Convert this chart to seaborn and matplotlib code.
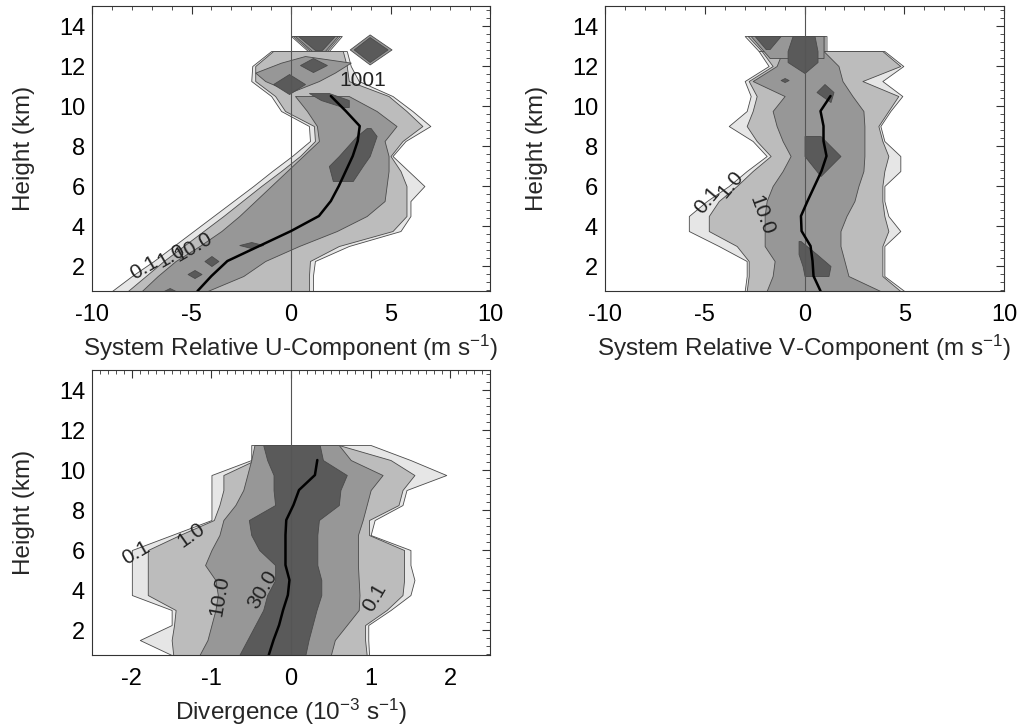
import matplotlib
matplotlib.use("Agg")
import matplotlib.pyplot as plt
import seaborn as sns
from matplotlib.ticker import MultipleLocator

nan = float("nan")

# height rows of the frequency analysis (km)
HEIGHTS = [0.75, 1.5, 2.25, 3.0, 3.75, 4.5, 5.25, 6.0, 6.75, 7.5,
           8.25, 9.0, 9.75, 10.5, 11.25, 12.0, 12.75, 13.5]
LEVELS = [0.1, 1.0, 10.0, 30.0]
SHADES = ["#e6e6e6", "#bcbcbc", "#979797", "#5a5a5a"]

# --- system relative U: left/right edge of each frequency contour per height
U_L01 = [-9.0, -8.0, -6.9, -5.9, -4.9, -3.9, -2.9, -1.9, -0.95, 0.05, 0.95, 0.9, -0.5, -1.0, -2.0, -1.95, -1.0, nan]
U_R01 = [1.1, 1.1, 1.2, 2.9, 5.5, 6.0, 6.0, 6.7, 5.9, 5.1, 5.75, 7.0, 6.1, 5.1, 3.4, 3.0, 2.8, nan]
U_L1 = [-8.2, -7.3, -6.4, -5.4, -4.4, -3.4, -2.45, -1.5, -0.5, 0.45, 1.2, 1.15, -0.3, -0.8, -1.8, -1.8, -0.9, nan]
U_R1 = [0.9, 0.9, 0.95, 2.4, 5.1, 5.8, 5.8, 5.8, 5.5, 5.0, 5.6, 6.6, 5.8, 4.9, 2.9, 2.8, 2.6, nan]
U_L10 = [-7.5, -6.7, -5.8, -4.6, -3.5, -2.6, -1.8, -1.0, -0.2, 0.6, 1.4, 1.3, 0.8, 0.2, nan, nan, nan, nan]
U_R10 = [-4.2, -2.4, -1.3, 0.4, 2.3, 3.8, 4.7, 4.8, 4.9, 4.9, 4.7, 5.3, 4.3, 2.9, nan, nan, nan, nan]
U_MEAN = [-4.7, -4.0, -3.2, -1.6, 0.0, 1.4, 2.0, 2.4, 2.75, 3.1, 3.35, 3.45, 2.75, 2.0]
# (level, heights, left, right) of detached cells
U_ISLANDS = [
    (0.1, [12.75, 13.5], [0.85, 0.0], [1.9, 2.55]),
    (1.0, [12.75, 13.5], [0.95, 0.1], [1.8, 2.45]),
    (10.0, [12.75, 13.5], [1.05, 0.2], [1.7, 2.35]),
    (30.0, [12.8, 13.5], [1.2, 0.35], [1.55, 2.2]),
    (10.0, [12.08, 12.83, 13.58], [3.95, 2.95, 3.95], [3.95, 5.05, 3.95]),
    (30.0, [12.2, 12.83, 13.45], [3.95, 3.15, 3.95], [3.95, 4.85, 3.95]),
    (10.0, [10.7, 11.25, 11.67, 12.17, 12.5], [0.0, -1.3, -1.8, -0.5, 0.7], [0.0, 1.4, 2.2, 3.0, 0.7]),
    (30.0, [11.7, 12.05, 12.4], [1.1, 0.45, 1.1], [1.1, 1.8, 1.1]),
    (30.0, [10.6, 11.1, 11.6], [-0.1, -0.9, -0.1], [-0.1, 0.7, -0.1]),
    (30.0, [9.95, 10.3, 10.65], [2.6, 1.5, 0.9], [2.9, 2.9, 1.9]),
    (30.0, [6.25, 7.0, 7.5, 8.5, 8.9], [2.1, 1.9, 2.4, 3.3, 3.8], [3.1, 3.6, 3.95, 4.3, 4.0]),
    (30.0, [1.4, 1.6, 1.8], [-4.85, -5.2, -4.85], [-4.85, -4.5, -4.85]),
    (30.0, [2.0, 2.25, 2.5], [-4.0, -4.35, -4.0], [-4.0, -3.65, -4.0]),
    (30.0, [2.9, 3.05, 3.2], [-2.0, -2.6, -2.0], [-2.0, -1.4, -2.0]),
    (30.0, [0.75, 0.9], [-6.4, -6.1], [-5.8, -6.1]),
]
U_LABELS = [("0.1", -7.4, 1.9, 30), ("1.0", -6.0, 2.5, 30), ("10.0", -4.9, 2.95, 30), ("1001", 3.6, 11.3, 0)]

# --- system relative V
V_L01 = [-3.0, -2.9, -2.9, -4.3, -5.8, -5.8, -4.9, -3.8, -2.9, -1.9, -2.6, -3.8, -2.9, -2.7, -3.0, -1.8, -2.3, nan]
V_R01 = [5.0, 4.0, 4.0, 4.0, 4.8, 4.2, 4.0, 4.0, 4.8, 4.8, 4.0, 3.8, 4.3, 4.9, 3.9, 4.95, 4.0, nan]
V_L1 = [-2.9, -2.8, -2.8, -3.4, -4.8, -4.8, -4.3, -3.4, -2.6, -1.7, -2.4, -2.9, -2.6, -2.4, -2.8, -1.6, -2.15, nan]
V_R1 = [4.8, 3.9, 3.9, 3.9, 4.2, 4.0, 3.9, 3.9, 4.0, 4.2, 3.9, 3.7, 4.2, 4.7, 2.9, 4.8, 3.9, nan]
V_L10 = [-1.9, -1.6, -1.5, -2.0, -2.0, -2.0, -1.9, -1.6, -1.1, -0.7, -1.1, -1.4, -1.6, -1.0, -2.6, -1.4, -1.1, nan]
V_R10 = [3.8, 2.2, 2.0, 1.8, 1.8, 2.1, 2.5, 2.7, 2.95, 3.0, 3.0, 3.0, 2.95, 2.4, 1.9, 1.7, 0.95, nan]
V_MEAN = [0.8, 0.45, 0.4, 0.3, -0.15, -0.18, 0.15, 0.5, 0.85, 1.1, 0.95, 0.95, 0.8, 1.3]
V_ISLANDS = [
    (0.1, [12.75, 13.5], [-2.3, -3.0], [1.1, 1.1]),
    (1.0, [12.75, 13.5], [-2.15, -2.85], [1.0, 1.0]),
    (10.0, [12.4, 13.5], [-1.75, -2.7], [0.95, 0.95]),
    (30.0, [12.85, 13.5], [-1.95, -2.5], [-1.75, -1.2]),
    (30.0, [11.65, 12.2, 12.75, 13.5], [0.0, -0.85, -0.85, -0.6], [0.0, 0.65, 0.65, 0.5]),
    (30.0, [10.2, 10.7, 11.1], [1.3, 0.6, 1.0], [1.3, 1.45, 1.0]),
    (30.0, [6.5, 7.5, 8.5], [0.8, 0.0, 0.0], [0.8, 1.8, 0.8]),
    (30.0, [1.5, 2.0, 2.6, 3.25], [0.0, -0.1, -0.3, -0.3], [1.2, 1.3, 0.6, -0.2]),
    (30.0, [11.2, 11.3, 11.4], [-1.0, -1.2, -1.0], [-1.0, -0.8, -1.0]),
]
V_LABELS = [("0.1", -4.9, 5.3, 50), ("1.0", -3.7, 6.1, 50), ("10.0", -2.15, 4.55, -70)]

# --- divergence
D_L01 = [-1.5, -1.9, -1.5, -1.5, -2.0, -2.0, -2.0, -2.0, -1.5, -1.0, -1.0, -1.0, -1.0, -0.5, -0.5, nan, nan, nan]
D_R01 = [0.98, 0.97, 0.97, 1.25, 1.5, 1.55, 1.5, 1.5, 1.0, 1.05, 1.4, 1.45, 1.95, 1.5, 1.0, nan, nan, nan]
D_L1 = [-1.48, -1.5, -1.47, -1.45, -1.8, -1.8, -1.8, -1.8, -1.4, -0.97, -0.9, -0.85, -0.85, -0.45, -0.45, nan, nan, nan]
D_R1 = [0.95, 0.93, 0.93, 1.2, 1.4, 1.42, 1.42, 1.42, 0.98, 0.98, 1.35, 1.4, 1.55, 1.25, 0.6, nan, nan, nan]
D_L10 = [-1.15, -1.05, -1.0, -0.95, -0.92, -0.95, -1.08, -1.0, -0.9, -0.85, -0.7, -0.6, -0.55, -0.5, -0.46, nan, nan, nan]
D_R10 = [0.5, 0.55, 0.7, 0.85, 0.86, 0.85, 0.84, 0.84, 0.84, 0.9, 0.95, 1.0, 1.15, 0.75, 0.6, nan, nan, nan]
D_L30 = [-0.65, -0.55, -0.45, -0.35, -0.3, -0.2, -0.2, -0.4, -0.5, -0.53, -0.2, -0.22, -0.22, -0.3, -0.35, nan, nan, nan]
D_R30 = [0.18, 0.22, 0.27, 0.32, 0.38, 0.38, 0.33, 0.33, 0.33, 0.35, 0.6, 0.62, 0.7, 0.4, 0.36, nan, nan, nan]
D_MEAN = [-0.28, -0.22, -0.15, -0.1, -0.04, -0.02, -0.07, -0.07, -0.07, -0.06, 0.03, 0.1, 0.3, 0.33]
D_LABELS = [("0.1", -1.95, 5.85, 30), ("1.0", -1.25, 6.75, 35), ("10.0", -0.9, 3.7, 80),
            ("30.0", -0.36, 4.0, 60), ("0.1", 1.05, 3.6, 60)]


def draw_cfad(ax, edges, islands, mean, labels, xlim, xmajor, xminor, xlabel):
    for i, level in enumerate(LEVELS):
        style = dict(facecolor=SHADES[i], edgecolor="#4a4a4a", linewidth=0.6)
        if level in edges:
            left, right = edges[level]
            ax.fill_betweenx(HEIGHTS, left, right, **style)
        for lev, hts, left, right in islands:
            if lev == level:
                ax.fill_betweenx(hts, left, right, **style)
    ax.axvline(0, color="#555555", linewidth=0.8)
    sns.lineplot(x=mean, y=HEIGHTS[:len(mean)], orient="y", sort=False,
                 color="black", linewidth=1.8, ax=ax)
    for txt, x, y, rot in labels:
        ax.text(x, y, txt, rotation=rot, fontsize=15, ha="center", va="center",
                rotation_mode="anchor", color="#222222")
    ax.set_xlim(*xlim)
    ax.set_ylim(0.75, 15)
    ax.xaxis.set_major_locator(MultipleLocator(xmajor))
    ax.xaxis.set_minor_locator(MultipleLocator(xminor))
    ax.yaxis.set_minor_locator(MultipleLocator(0.4))
    ax.set_yticks([2, 4, 6, 8, 10, 12, 14])
    ax.tick_params(which="both", direction="in", top=True, right=True, colors="#333333",
                   labelcolor="black")
    ax.tick_params(which="major", length=6, width=0.8, labelsize=17)
    ax.tick_params(which="minor", length=3, width=0.6)
    ax.tick_params(axis="x", which="major", pad=9)
    ax.tick_params(axis="y", which="major", pad=5)
    ax.set_xlabel(xlabel, fontsize=17.5, labelpad=5)
    ax.set_ylabel("Height (km)", fontsize=17.5, labelpad=17)
    for sp in ax.spines.values():
        sp.set_color("#333333")
        sp.set_linewidth(0.8)


sns.set_theme(style="white")
plt.rcParams["font.family"] = ["Liberation Sans", "DejaVu Sans"]
plt.rcParams["mathtext.default"] = "regular"
plt.rcParams["axes.unicode_minus"] = False

fig = plt.figure(figsize=(10.33, 7.27), dpi=100)
ax_u = fig.add_axes([0.0891, 0.5997, 0.3853, 0.392])
ax_v = fig.add_axes([0.5857, 0.5997, 0.3863, 0.392])
ax_d = fig.add_axes([0.0891, 0.0990, 0.3853, 0.392])

draw_cfad(ax_u, {0.1: (U_L01, U_R01), 1.0: (U_L1, U_R1), 10.0: (U_L10, U_R10)},
          U_ISLANDS, U_MEAN, U_LABELS, (-10, 10), 5, 1,
          "System Relative U-Component (m s$^{-1}$)")
draw_cfad(ax_v, {0.1: (V_L01, V_R01), 1.0: (V_L1, V_R1), 10.0: (V_L10, V_R10)},
          V_ISLANDS, V_MEAN, V_LABELS, (-10, 10), 5, 1,
          "System Relative V-Component (m s$^{-1}$)")
draw_cfad(ax_d, {0.1: (D_L01, D_R01), 1.0: (D_L1, D_R1), 10.0: (D_L10, D_R10), 30.0: (D_L30, D_R30)},
          [], D_MEAN, D_LABELS, (-2.5, 2.5), 1, 0.1,
          "Divergence (10$^{-3}$ s$^{-1}$)")

fig.savefig("out.png", dpi=100, facecolor="white")
